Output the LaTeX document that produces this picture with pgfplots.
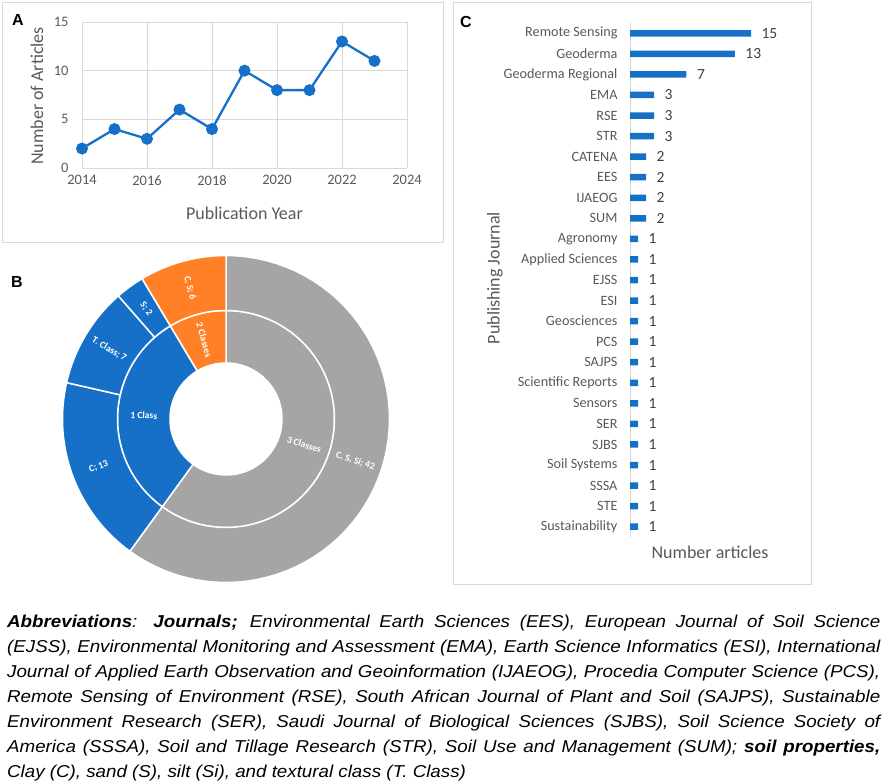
\documentclass[border=0pt]{standalone}
\usepackage{pgfplots}
\usepackage{pgfplotstable}
\pgfplotsset{compat=1.18}
\usepackage{fontspec}
\setmainfont{Liberation Sans}
\newfontfamily\carlito{Carlito}
\definecolor{xblue}{RGB}{23,112,200}
\definecolor{xorange}{RGB}{255,128,38}
\definecolor{xgray}{RGB}{165,165,165}
\definecolor{framec}{RGB}{217,217,217}
\definecolor{gridc}{RGB}{217,217,217}
\definecolor{tickc}{RGB}{89,89,89}
\definecolor{valc}{RGB}{64,64,64}

\pgfplotstableread{
year n
2014 2
2015 4
2016 3
2017 6
2018 4
2019 10
2020 8
2021 8
2022 13
2023 11
}\yeardata

\pgfplotstableread{
idx n
0 15
1 13
2 7
3 3
4 3
5 3
6 2
7 2
8 2
9 2
10 1
11 1
12 1
13 1
14 1
15 1
16 1
17 1
18 1
19 1
20 1
21 1
22 1
23 1
24 1
}\journaldata

% donut ring builder: #1 inner radius, #2 outer radius (axis units = pt),
% #3 list value/colour/label ; commands are collected in \donutcmds
\gdef\donutcmds{}
\newcommand\donutring[3]{%
  \gdef\cum{0}%
  \foreach \v/\col/\lab in {#3}{%
    \pgfmathsetmacro\aone{90-\cum/70*360}%
    \pgfmathsetmacro\atwo{90-(\cum+\v)/70*360}%
    \pgfmathsetmacro\amid{(\aone+\atwo)/2}%
    \pgfmathsetmacro\rot{cos(\amid)<0 ? \amid+180 : \amid}%
    \pgfmathsetmacro\rmid{(#1+#2)/2}%
    \pgfmathsetmacro\xm{\rmid*cos(\amid)}\pgfmathsetmacro\ym{\rmid*sin(\amid)}%
    \gdef\pth{}%
    \foreach \k in {0,...,60}{%
      \pgfmathsetmacro\ang{\aone+(\atwo-\aone)/60*\k}%
      \pgfmathsetmacro\px{#2*cos(\ang)}\pgfmathsetmacro\py{#2*sin(\ang)}%
      \xdef\pth{\pth(axis cs:\px,\py)--}}%
    \foreach \k in {0,...,60}{%
      \pgfmathsetmacro\ang{\atwo+(\aone-\atwo)/60*\k}%
      \pgfmathsetmacro\px{#1*cos(\ang)}\pgfmathsetmacro\py{#1*sin(\ang)}%
      \xdef\pth{\pth(axis cs:\px,\py)--}}%
    \xdef\donutcmds{\unexpanded\expandafter{\donutcmds}%
      \noexpand\fill[\col,draw=white,line width=1.5pt]\pth cycle;
      \noexpand\node[inner sep=0pt,text=white,font=\noexpand\carlito\noexpand\bfseries\noexpand\fontsize{9.6}{9.6}\noexpand\selectfont,rotate=\rot] at (axis cs:\xm,\ym) {\lab};}%
    \pgfmathsetmacro\newcum{\cum+\v}\xdef\cum{\newcum}%
  }}
\donutring{56}{108.5}{42/xgray/3 Classes,22/xblue/1 Class,6/xorange/2 Classes}
\donutring{108.5}{163.5}{42/xgray/{C, S, Si; 42},13/xblue/{C; 13},7/xblue/{T. Class; 7},2/xblue/{S; 2},6/xorange/{C, S; 6}}

\begin{document}
\begin{tikzpicture}[x=1pt,y=1pt]
\path[use as bounding box] (0,0) rectangle (886,-783);
\draw[framec,line width=1pt] (2.5,-2.5) rectangle (443,-243);
\draw[framec,line width=1pt] (453,-2.5) rectangle (811,-584);

% ---------- Panel A ----------
\begin{axis}[at={(82pt,-168pt)},anchor=south west,scale only axis,
  width=325pt,height=146pt,
  xmin=2014,xmax=2024,ymin=0,ymax=15,
  xtick={2014,2016,...,2024},ytick={0,5,10,15},
  xmajorgrids,ymajorgrids,grid style={gridc,line width=0.8pt},
  axis line style={draw=none},major tick length=0pt,
  tick label style={font=\carlito\fontsize{14.5}{14.5}\selectfont,text=tickc},
  /pgf/number format/assume math mode=true,/pgf/number format/1000 sep={},
  xticklabel style={yshift=-4pt},yticklabel style={xshift=-10pt},
  clip=false]
\addplot[xblue,line width=2.3pt,mark=*,mark size=4.8pt,
  mark options={fill=xblue,draw=xblue,solid}] table[x=year,y=n]{\yeardata};
\end{axis}
\node[font=\carlito\fontsize{18}{18}\selectfont,text=tickc] at (244.5,-213) {Publication Year};
\node[font=\carlito\fontsize{18}{18}\selectfont,text=tickc,rotate=90] at (37,-96) {Number of Articles};
\node[font=\bfseries\fontsize{16}{16}\selectfont] at (18,-20) {A};

% ---------- Panel B ----------
\node[font=\bfseries\fontsize{16}{16}\selectfont] at (17,-282) {B};
\begin{axis}[at={(226pt,-419pt)},anchor=center,scale only axis,
  width=327pt,height=327pt,hide axis,
  xmin=-163.5,xmax=163.5,ymin=-163.5,ymax=163.5,clip=false]
\addplot[draw=none] coordinates {(0,0)};
\pgfplotsextra{\donutcmds}
\end{axis}

% ---------- Panel C ----------
\node[font=\bfseries\fontsize{16}{16}\selectfont] at (466,-22) {C};
\begin{axis}[at={(630pt,-23pt)},anchor=north west,scale only axis,
  width=161.4pt,height=514pt,
  xbar,bar width=6.5pt,
  xmin=0,xmax=20,ymin=-0.5,ymax=24.5,y dir=reverse,
  ytick={0,...,24},
  yticklabels={Remote Sensing,Geoderma,Geoderma Regional,EMA,RSE,STR,CATENA,EES,IJAEOG,SUM,Agronomy,Applied Sciences,EJSS,ESI,Geosciences,PCS,SAJPS,Scientific Reports,Sensors,SER,SJBS,Soil Systems,SSSA,STE,Sustainability},
  hide x axis,axis y line*=left,
  y axis line style={gridc,line width=1pt,-},
  major tick length=0pt,
  yticklabel style={font=\carlito\fontsize{14.2}{14.2}\selectfont,text=tickc,xshift=-9pt},
  nodes near coords,
  nodes near coords style={font=\carlito\fontsize{15.5}{15.5}\selectfont,text=valc,anchor=west,xshift=7pt},
  /pgf/number format/assume math mode=true,
  clip=false]
\addplot[xblue,fill=xblue,draw=none] table[x=n,y=idx]{\journaldata};
\end{axis}
\node[font=\carlito\fontsize{18}{18}\selectfont,text=tickc,rotate=90] at (495,-278) {Publishing Journal};
\node[font=\carlito\fontsize{18}{18}\selectfont,text=tickc] at (710,-552) {Number articles};

% ---------- Caption text ----------
\node[anchor=base west,inner sep=0pt] at (7,-627) {\scalebox{1.09}[1]{\parbox[t]{801pt}{%
\fontsize{17.2}{25}\selectfont\itshape\hyphenpenalty=10000\exhyphenpenalty=10000\tolerance=10000
\textbf{Abbreviations}: \textbf{Journals;} Environmental Earth Sciences (EES), European Journal of Soil Science\linebreak
(EJSS), Environmental Monitoring and Assessment (EMA), Earth Science Informatics (ESI), International\linebreak
Journal of Applied Earth Observation and Geoinformation (IJAEOG), Procedia Computer Science (PCS),\linebreak
Remote Sensing of Environment (RSE), South African Journal of Plant and Soil (SAJPS), Sustainable\linebreak
Environment Research (SER), Saudi Journal of Biological Sciences (SJBS), Soil Science Society of\linebreak
America (SSSA), Soil and Tillage Research (STR), Soil Use and Management (SUM); \textbf{soil properties,}\linebreak
Clay (C), sand (S), silt (Si), and textural class (T. Class)}}};
\end{tikzpicture}
\end{document}
